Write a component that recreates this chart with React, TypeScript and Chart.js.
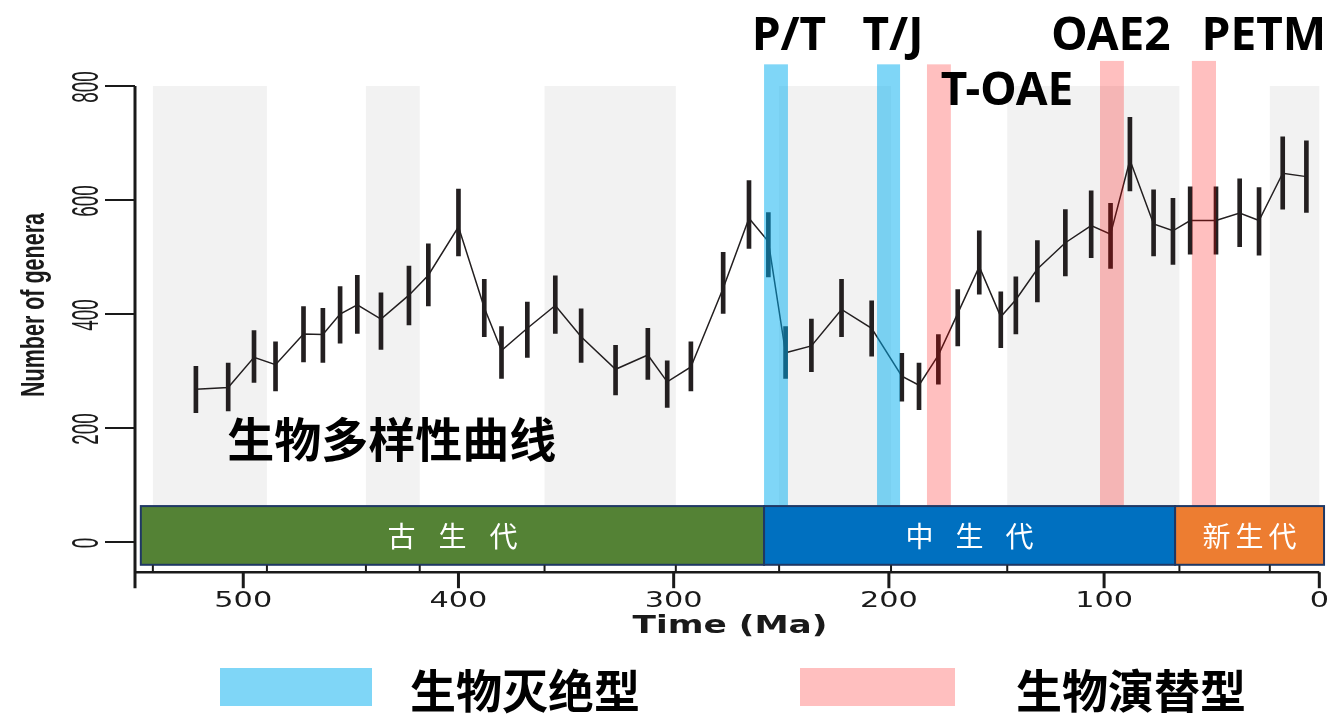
import React, { useEffect, useRef } from "react";
import { Chart, registerables } from "chart.js";

Chart.register(...registerables);

// Sample ages (Ma) with mean genus counts and their uncertainty ranges
const ageMa = [
  522, 507, 495, 485, 472, 463, 455, 447, 436, 423,
  414, 400, 388, 380, 368, 355, 343, 327, 312, 303,
  292, 277, 265, 256, 248, 236, 222, 208, 194, 186,
  177, 168, 158, 148, 141, 131, 118, 106, 97, 88,
  77, 68, 60, 48, 37, 28, 17, 6,
];
const generaMean = [
  268, 271, 324, 311, 365, 364, 400, 416, 391, 433,
  468, 553, 411, 336, 375, 415, 360, 303, 328, 281,
  307, 445, 568, 527, 332, 344, 408, 375, 291, 275,
  328, 401, 483, 395, 425, 479, 525, 555, 540, 670,
  558, 546, 564, 564, 577, 564, 647, 641,
];
const generaLow = [
  227, 230, 280, 265, 316, 315, 349, 366, 338, 381,
  414, 502, 360, 287, 324, 366, 315, 258, 285, 236,
  265, 401, 515, 465, 287, 299, 360, 326, 247, 232,
  277, 344, 435, 341, 365, 421, 467, 499, 480, 616,
  502, 487, 505, 505, 518, 503, 584, 578,
];
const generaHigh = [
  308, 314, 371, 351, 413, 410, 448, 468, 437, 484,
  523, 619, 461, 378, 421, 467, 409, 345, 375, 318,
  351, 508, 634, 578, 378, 391, 461, 423, 331, 314,
  364, 443, 546, 439, 465, 529, 583, 616, 594, 745,
  618, 603, 623, 623, 637, 622, 711, 704,
];

// Axis ticks
const yTicks = [0, 200, 400, 600, 800];
const xTicks = [500, 400, 300, 200, 100, 0];
const yTickLabels = ["0", "200", "400", "600", "800"];
const xTickLabels = ["500", "400", "300", "200", "100", "0"];

// Geological periods: boundaries and alternating shaded periods (Ma)
const periodBoundaries = [542, 489, 443, 418, 360, 299, 251, 199, 145, 65, 23];
const shadeStart = [542, 443, 360, 251, 145, 23];
const shadeEnd = [489, 418, 299, 199, 65, 0];

// Eras
const eraNames = ["古生代", "中生代", "新生代"];
const eraStart = [547.6, 258, 67];
const eraEnd = [258, 67, -2.2];

// Events
const eventNames = ["P/T", "T/J", "T-OAE", "OAE2", "PETM"];
const eventStart = [258, 205.5, 182.3, 101.9, 59.2];
const eventEnd = [246.9, 194.8, 171.2, 90.8, 48];
const eventKinds = ["extinction", "extinction", "turnover", "turnover", "turnover"];

const legendLabels = ["生物灭绝型", "生物演替型"];
const curveTitle = "生物多样性曲线";

// Layout & styling
const STYLE = {
  ink: "#231f20",
  shade: "#f2f2f2",
  eraFill: ["#548235", "#0070c0", "#ed7d31"],
  eraBorder: "#1f3864",
  eraPitch: [51, 50, 33],
  eventFill: {
    extinction: "rgba(0,174,239,0.5)",
    turnover: "rgba(255,0,0,0.25)",
  } as Record<string, string>,
  legendFill: ["#7fd6f7", "#ffbfbf"],
  eventTop: [838, 838, 838, 844, 844],
  eventLabelAge: [246.4, 198.1, 145.1, 96.8, 25.7],
  eventLabelLevel: [863, 863, 767, 863, 863],
  shadeTop: 800,
  boxTop: 63,
  boxBottom: -40,
};

function drawFitted(
  ctx: CanvasRenderingContext2D,
  text: string,
  cx: number,
  cy: number,
  width: number,
  rotation: number
) {
  ctx.save();
  ctx.translate(cx, cy);
  ctx.rotate(rotation);
  const w = ctx.measureText(text).width;
  ctx.scale(width / w, 1);
  ctx.textAlign = "center";
  ctx.textBaseline = "middle";
  ctx.fillText(text, 0, 0);
  ctx.restore();
}

const paleoPlugin = {
  id: "paleoDecor",
  beforeDatasetsDraw(chart: any) {
    const { ctx, scales } = chart;
    const x = scales.x;
    const y = scales.y;
    ctx.save();
    ctx.fillStyle = STYLE.shade;
    const yt = y.getPixelForValue(STYLE.shadeTop);
    const yb = y.getPixelForValue(STYLE.boxBottom);
    shadeStart.forEach((s, i) => {
      const x0 = x.getPixelForValue(s);
      const x1 = x.getPixelForValue(shadeEnd[i]);
      ctx.fillRect(x0, yt, x1 - x0, yb - yt);
    });
    ctx.restore();
  },
  afterDatasetsDraw(chart: any) {
    const { ctx, scales, chartArea } = chart;
    const x = scales.x;
    const y = scales.y;
    const left = chartArea.left;
    const bottom = chartArea.bottom;
    ctx.save();

    // event bands
    eventNames.forEach((_, i) => {
      const x0 = x.getPixelForValue(eventStart[i]);
      const x1 = x.getPixelForValue(eventEnd[i]);
      const yt = y.getPixelForValue(STYLE.eventTop[i]);
      const yb = y.getPixelForValue(STYLE.boxTop);
      ctx.fillStyle = STYLE.eventFill[eventKinds[i]];
      ctx.fillRect(x0, yt, x1 - x0, yb - yt);
    });

    // era boxes
    const bt = y.getPixelForValue(STYLE.boxTop);
    const bb = y.getPixelForValue(STYLE.boxBottom);
    eraNames.forEach((name, i) => {
      const x0 = x.getPixelForValue(eraStart[i]);
      const x1 = x.getPixelForValue(eraEnd[i]);
      ctx.fillStyle = STYLE.eraFill[i];
      ctx.fillRect(x0, bt, x1 - x0, bb - bt);
      ctx.strokeStyle = STYLE.eraBorder;
      ctx.lineWidth = 2;
      ctx.strokeRect(x0, bt, x1 - x0, bb - bt);
      ctx.fillStyle = "#ffffff";
      ctx.font = '28px "Noto Sans CJK SC"';
      ctx.textAlign = "center";
      ctx.textBaseline = "middle";
      const chars = Array.from(name);
      const cx = (x0 + x1) / 2;
      const cy = (bt + bb) / 2 + 1;
      chars.forEach((c, k) => {
        ctx.fillText(c, cx + (k - (chars.length - 1) / 2) * STYLE.eraPitch[i], cy);
      });
    });

    // axes
    ctx.strokeStyle = "#1a1a1a";
    ctx.fillStyle = "#1a1a1a";
    ctx.lineCap = "butt";
    // y axis line
    ctx.lineWidth = 3;
    ctx.beginPath();
    ctx.moveTo(left, y.getPixelForValue(800));
    ctx.lineTo(left, bottom + 16);
    ctx.stroke();
    // y ticks
    ctx.lineWidth = 2;
    yTicks.forEach((v) => {
      const py = y.getPixelForValue(v);
      ctx.beginPath();
      ctx.moveTo(left - 30, py);
      ctx.lineTo(left, py);
      ctx.stroke();
    });
    ctx.font = '36px "Liberation Sans", Arial, sans-serif';
    yTicks.forEach((v, i) => {
      const py = y.getPixelForValue(v);
      const lbl = yTickLabels[i];
      drawFitted(ctx, lbl, left - 47, py + 1, lbl.length * 10.5, -Math.PI / 2);
    });
    // x axis line
    const xr = x.getPixelForValue(0);
    ctx.lineWidth = 2.5;
    ctx.beginPath();
    ctx.moveTo(left, bottom);
    ctx.lineTo(xr, bottom);
    ctx.stroke();
    // major ticks
    ctx.lineWidth = 3;
    xTicks.forEach((t) => {
      const px = x.getPixelForValue(t);
      ctx.beginPath();
      ctx.moveTo(px, bottom);
      ctx.lineTo(px, bottom + 16);
      ctx.stroke();
    });
    // period boundary ticks
    ctx.lineWidth = 2;
    periodBoundaries.forEach((t) => {
      const px = x.getPixelForValue(t);
      ctx.beginPath();
      ctx.moveTo(px, bottom);
      ctx.lineTo(px, bottom - 7);
      ctx.stroke();
    });
    ctx.font = '21px "DejaVu Sans", sans-serif';
    xTicks.forEach((t, i) => {
      const px = x.getPixelForValue(t);
      const lbl = xTickLabels[i];
      drawFitted(ctx, lbl, px, bottom + 29, lbl.length * 19.3, 0);
    });

    // axis titles
    ctx.font = 'bold 25px "DejaVu Sans", sans-serif';
    drawFitted(ctx, "Time (Ma)", 730, bottom + 54, 195, 0);
    ctx.font = 'bold 33px "Liberation Sans", Arial, sans-serif';
    drawFitted(ctx, "Number of genera", 35, 305, 184, -Math.PI / 2);

    // event labels
    ctx.fillStyle = "#000000";
    ctx.font = 'bold 46px "Noto Sans", sans-serif';
    ctx.textAlign = "center";
    ctx.textBaseline = "alphabetic";
    eventNames.forEach((name, i) => {
      ctx.fillText(
        name,
        x.getPixelForValue(STYLE.eventLabelAge[i]),
        y.getPixelForValue(STYLE.eventLabelLevel[i])
      );
    });

    // curve title
    ctx.font = 'bold 47px "Noto Sans CJK SC"';
    ctx.textBaseline = "middle";
    ctx.fillText(curveTitle, x.getPixelForValue(431), y.getPixelForValue(180));

    // legend
    const legendX = [220, 800];
    const legendW = [152, 155];
    const legendTextX = [410, 1016];
    legendLabels.forEach((lbl, i) => {
      ctx.fillStyle = STYLE.legendFill[i];
      ctx.fillRect(legendX[i], 668, legendW[i], 38);
      ctx.fillStyle = "#000000";
      ctx.font = 'bold 46px "Noto Sans CJK SC"';
      ctx.textAlign = "left";
      ctx.textBaseline = "middle";
      ctx.fillText(lbl, legendTextX[i], 691);
    });

    ctx.restore();
  },
};

export default function App() {
  const canvasRef = useRef<HTMLCanvasElement | null>(null);

  useEffect(() => {
    const canvas = canvasRef.current;
    if (!canvas) return;
    const chart = new Chart(canvas, {
      type: "bar",
      data: {
        datasets: [
          {
            type: "line",
            data: ageMa.map((a, i) => ({ x: a, y: generaMean[i] })),
            borderColor: STYLE.ink,
            borderWidth: 1.5,
            pointRadius: 0,
            tension: 0,
            order: 1,
          } as any,
          {
            type: "bar",
            data: ageMa.map((a, i) => ({ x: a, y: [generaLow[i], generaHigh[i]] })),
            backgroundColor: STYLE.ink,
            barThickness: 4,
            grouped: false,
            order: 2,
          } as any,
        ],
      },
      options: {
        animation: false,
        responsive: false,
        events: [],
        layout: { padding: { left: 135, right: 12.7, top: 57.5, bottom: 141.8 } },
        plugins: { legend: { display: false }, tooltip: { enabled: false } },
        scales: {
          x: { type: "linear", reverse: true, min: 0, max: 550.3, offset: false, display: false },
          y: { type: "linear", min: -53, max: 850, display: false },
        },
      } as any,
      plugins: [paleoPlugin],
    });
    return () => chart.destroy();
  }, []);

  return (
    <div style={{ position: "fixed", left: 0, top: 0, width: 1332, height: 714, background: "#ffffff" }}>
      <canvas ref={canvasRef} width={1332} height={714} style={{ display: "block" }} />
    </div>
  );
}
